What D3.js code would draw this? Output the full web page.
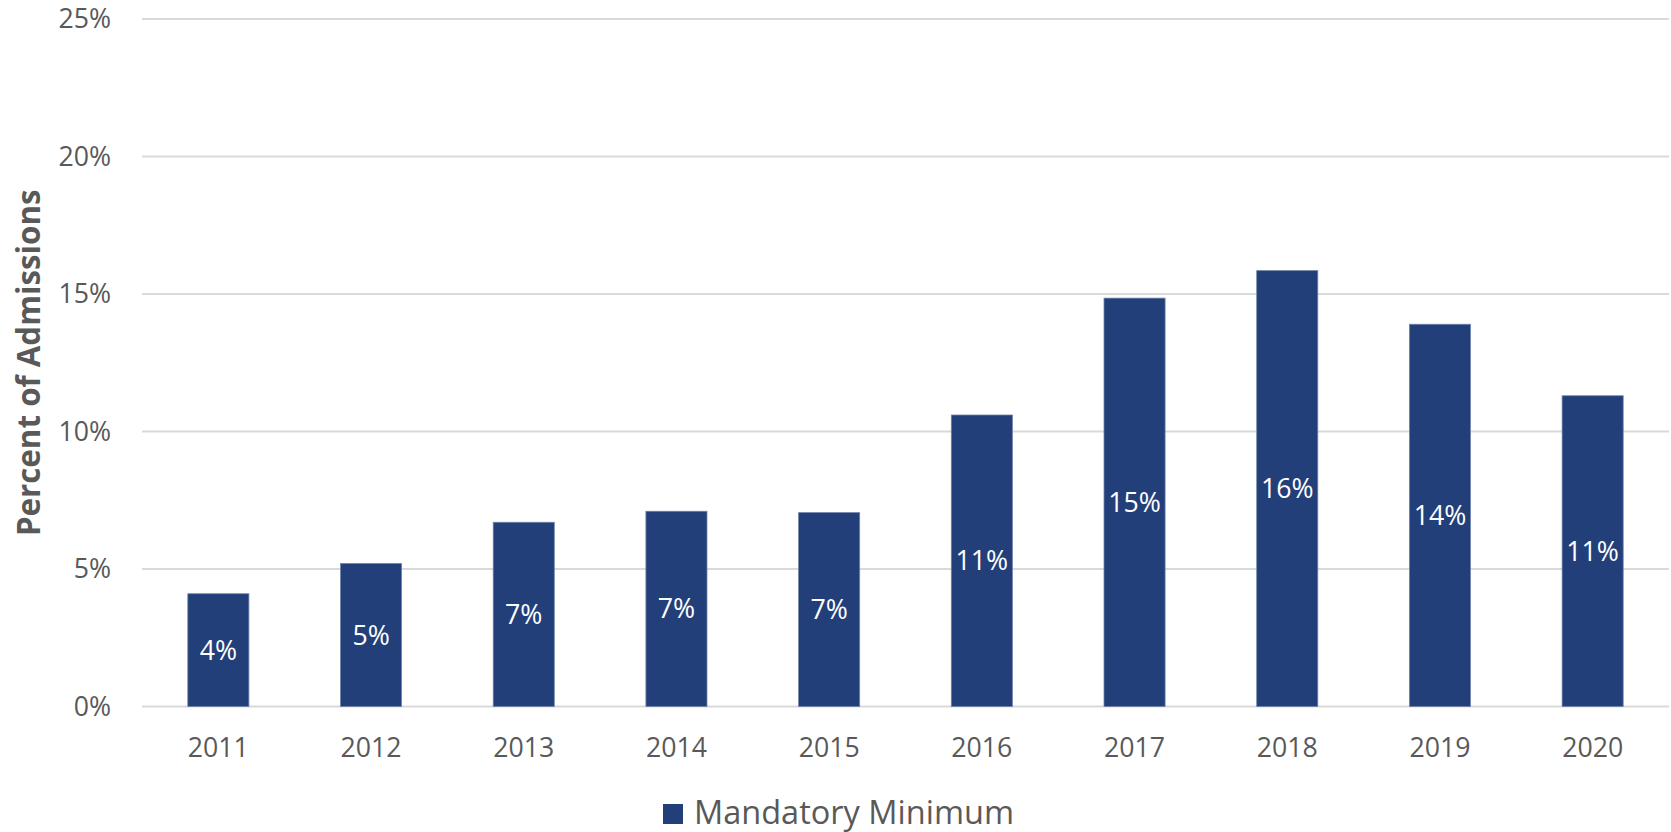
<!DOCTYPE html>
<html>
<head>
<meta charset="utf-8">
<script src="https://cdn.jsdelivr.net/npm/d3@7/dist/d3.min.js"></script>
<style>
  html, body { margin: 0; padding: 0; background: #fff; }
  svg { display: block; font-family: "Open Sans", sans-serif; }
</style>
</head>
<body>
<svg id="chart" width="1671" height="832"></svg>
<script>
// Share of admissions with a mandatory minimum, by year
const years = ["2011", "2012", "2013", "2014", "2015", "2016", "2017", "2018", "2019", "2020"];
const mandatoryMinimum = [4.1, 5.2, 6.7, 7.1, 7.05, 10.6, 14.85, 15.85, 13.9, 11.3];
const yTicks = [0, 5, 10, 15, 20, 25];
const seriesName = "Mandatory Minimum";
const axisTitle = "Percent of Admissions";

const svg = d3.select("#chart");
const margin = { left: 142, right: 2, top: 19, bottom: 125 };
const W = 1671, H = 832;
const textColor = "#595959";
const barColor = "#223F7A";

const x = d3.scaleBand()
  .domain(years)
  .range([margin.left, W - margin.right])
  .paddingInner(0.6)
  .paddingOuter(0.3);

const y = d3.scaleLinear()
  .domain([0, 25])
  .range([H - margin.bottom - 0.5, margin.top]);

// Horizontal gridlines
svg.append("g")
  .selectAll("line")
  .data(yTicks)
  .join("line")
  .attr("x1", margin.left)
  .attr("x2", W - margin.right)
  .attr("y1", d => y(d))
  .attr("y2", d => y(d))
  .attr("stroke", "#d9d9d9")
  .attr("stroke-width", 2);

// Y axis labels
const yAxis = d3.axisLeft(y).tickValues(yTicks).tickFormat(d => d + "%").tickSize(0).tickPadding(0);
const gy = svg.append("g")
  .attr("transform", `translate(${margin.left - 31},0)`)
  .call(yAxis);
gy.select(".domain").remove();
gy.selectAll("text")
  .attr("fill", textColor)
  .style("font-size", "26.7px")
  .style("font-family", "'Open Sans', sans-serif");

// Bars
svg.append("g")
  .selectAll("rect")
  .data(years)
  .join("rect")
  .attr("x", d => x(d))
  .attr("width", x.bandwidth())
  .attr("y", (d, i) => y(mandatoryMinimum[i]))
  .attr("height", (d, i) => y(0) - y(mandatoryMinimum[i]))
  .attr("fill", barColor)
  .attr("stroke", "#6f82aa")
  .attr("stroke-width", 0.8);

// Value labels, centred in each bar
svg.append("g")
  .selectAll("text")
  .data(years)
  .join("text")
  .attr("x", d => x(d) + x.bandwidth() / 2)
  .attr("y", (d, i) => (y(mandatoryMinimum[i]) + y(0)) / 2)
  .attr("dy", "0.36em")
  .attr("text-anchor", "middle")
  .attr("fill", "#ffffff")
  .style("font-size", "26.7px")
  .text((d, i) => Math.round(mandatoryMinimum[i]) + "%");

// X axis labels
const xAxis = d3.axisBottom(x).tickSize(0).tickPadding(0);
const gx = svg.append("g")
  .attr("transform", `translate(0,${y(0) + 32})`)
  .call(xAxis);
gx.select(".domain").remove();
gx.selectAll("text")
  .attr("fill", textColor)
  .style("font-size", "26.7px")
  .style("font-family", "'Open Sans', sans-serif");

// Y axis title
svg.append("text")
  .attr("transform", `translate(40,${(y(0) + y(25)) / 2}) rotate(-90)`)
  .attr("text-anchor", "middle")
  .attr("fill", textColor)
  .style("font-size", "31.3px")
  .style("font-weight", "bold")
  .text(axisTitle);

// Legend
const legend = svg.append("g").attr("transform", "translate(663,804)");
legend.append("rect")
  .attr("width", 20)
  .attr("height", 20)
  .attr("fill", barColor);
legend.append("text")
  .attr("x", 31)
  .attr("y", 20)
  .attr("fill", textColor)
  .style("font-size", "32.5px")
  .text(seriesName);
</script>
</body>
</html>
